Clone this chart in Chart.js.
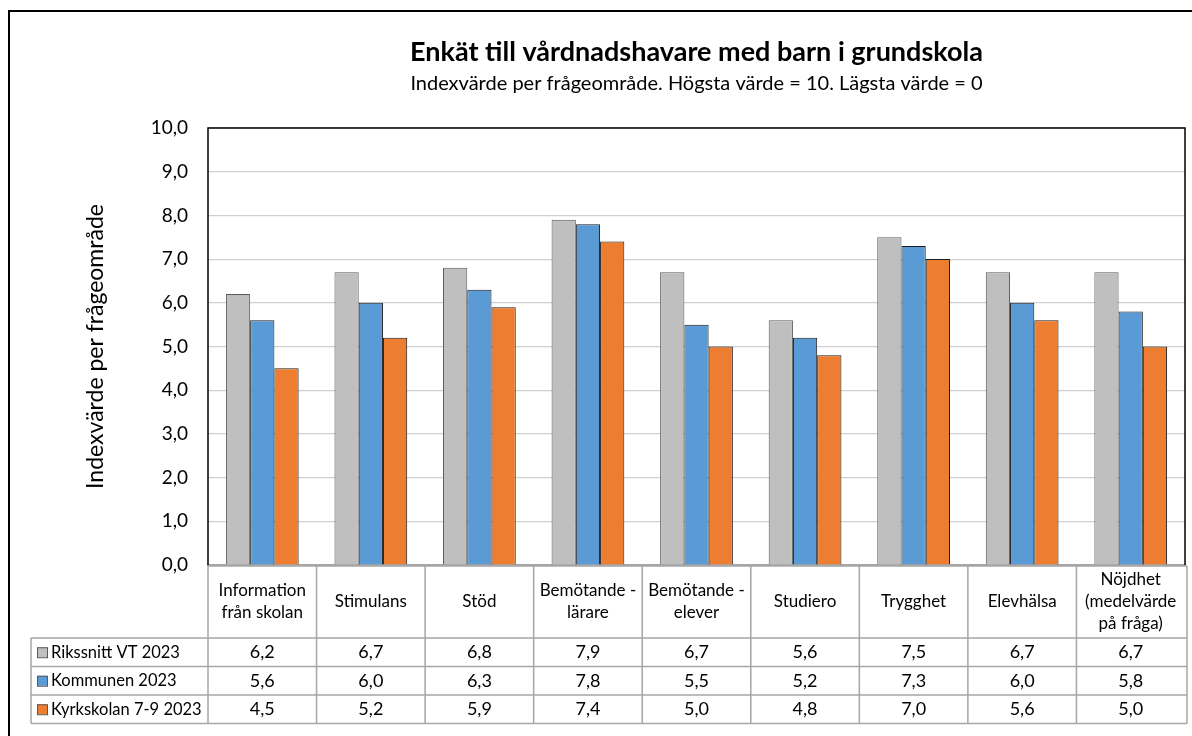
<!DOCTYPE html>
<html>
<head>
<meta charset="utf-8">
<script src="https://cdn.jsdelivr.net/npm/chart.js@4/dist/chart.umd.min.js"></script>
<style>
  body { margin: 0; background: #fff; }
  #wrap { width: 1192px; height: 736px; }
</style>
</head>
<body>
<div id="wrap"><canvas id="bar" width="1192" height="736"></canvas></div>
<script>
'use strict';

// kategorier (rubrikrad i tabellen)
var categories = [
    ['Information', 'från skolan'],
    ['Stimulans'],
    ['Stöd'],
    ['Bemötande -', 'lärare'],
    ['Bemötande -', 'elever'],
    ['Studiero'],
    ['Trygghet'],
    ['Elevhälsa'],
    ['Nöjdhet', '(medelvärde', 'på fråga)']
];
var seriesNames = ['Rikssnitt VT 2023', 'Kommunen 2023', 'Kyrkskolan 7-9 2023'];
var riksValues = [6.2, 6.7, 6.8, 7.9, 6.7, 5.6, 7.5, 6.7, 6.7];
var kommunValues = [5.6, 6.0, 6.3, 7.8, 5.5, 5.2, 7.3, 6.0, 5.8];
var skolaValues = [4.5, 5.2, 5.9, 7.4, 5.0, 4.8, 7.0, 5.6, 5.0];
var yTicks = [0, 1, 2, 3, 4, 5, 6, 7, 8, 9, 10];
var colors = ['#BFBFBF', '#5B9BD5', '#ED7D31'];

var FONT = 'Lato';

function fmt(v) {
    return v.toFixed(1).replace('.', ',');
}

// ram, titel och datatabell
var tablePlugin = {
    id: 'tablePlugin',
    beforeDraw: function(chart) {
        var ctx = chart.ctx;
        ctx.save();
        ctx.fillStyle = '#fff';
        ctx.fillRect(0, 0, chart.width, chart.height);
        ctx.strokeStyle = '#000';
        ctx.lineWidth = 2;
        ctx.strokeRect(9, 11, 1300, 1000);
        ctx.restore();
    },
    afterDraw: function(chart) {
        var ctx = chart.ctx;
        var a = chart.chartArea;
        var x = chart.scales.x;
        var n = categories.length;
        var cw = (a.right - a.left) / n;
        var all = [riksValues, kommunValues, skolaValues];

        ctx.save();
        // titel
        var cx = (a.left + a.right) / 2;
        ctx.fillStyle = '#000';
        ctx.textAlign = 'center';
        ctx.textBaseline = 'middle';
        ctx.font = 'bold 27px ' + FONT;
        ctx.fillText('Enkät till vårdnadshavare med barn i grundskola', cx, 52);
        ctx.font = '20px ' + FONT;
        ctx.fillText('Indexvärde per frågeområde. Högsta värde = 10. Lägsta värde = 0', cx, 84);

        // ram runt diagramytan
        ctx.strokeStyle = '#000';
        ctx.lineWidth = 1.5;
        ctx.beginPath();
        ctx.moveTo(a.left, a.bottom);
        ctx.lineTo(a.left, a.top);
        ctx.lineTo(a.right, a.top);
        ctx.lineTo(a.right, a.bottom);
        ctx.stroke();

        // tabell
        var top = a.bottom + 1;
        var headH = 72;
        var rowH = 28.5;
        var bottom = top + headH + rowH * 3;
        var legLeft = 31;
        var right = a.right + 2;

        ctx.strokeStyle = '#A6A6A6';
        ctx.lineWidth = 1.5;
        ctx.beginPath();
        ctx.moveTo(a.left, top);
        ctx.lineTo(right, top);
        for (var r = 0; r <= 3; r++) {
            var yy = top + headH + rowH * r;
            ctx.moveTo(legLeft, yy);
            ctx.lineTo(right, yy);
        }
        for (var i = 0; i <= n; i++) {
            var xx = i < n ? x.getPixelForValue(i) - cw / 2 : right;
            ctx.moveTo(xx, top);
            ctx.lineTo(xx, bottom);
        }
        ctx.moveTo(legLeft, top + headH);
        ctx.lineTo(legLeft, bottom);
        ctx.stroke();

        ctx.fillStyle = '#000';
        ctx.textAlign = 'center';
        ctx.textBaseline = 'middle';
        ctx.font = '17px ' + FONT;
        var lh = 22;
        categories.forEach(function(lines, i) {
            var px = x.getPixelForValue(i);
            var y0 = top + headH / 2 - (lines.length - 1) * lh / 2;
            lines.forEach(function(t, k) {
                ctx.fillText(t, px, y0 + k * lh);
            });
        });

        all.forEach(function(vals, s) {
            var yy = top + headH + rowH * s + rowH / 2;
            ctx.font = '18px ' + FONT;
            vals.forEach(function(v, i) {
                ctx.fillText(fmt(v), x.getPixelForValue(i), yy);
            });
            // förklaring
            ctx.fillStyle = colors[s];
            ctx.fillRect(37, yy - 5, 10, 10);
            ctx.strokeStyle = '#595959';
            ctx.lineWidth = 1;
            ctx.strokeRect(37.5, yy - 4.5, 10, 10);
            ctx.fillStyle = '#000';
            ctx.textAlign = 'left';
            ctx.font = '16.5px ' + FONT;
            ctx.fillText(seriesNames[s], 51, yy);
            ctx.textAlign = 'center';
        });
        ctx.restore();
    }
};

var ctx = document.getElementById('bar').getContext('2d');
var myChart = new Chart(ctx, {
    type: 'bar',
    data: {
        labels: categories,
        datasets: [riksValues, kommunValues, skolaValues].map(function(vals, s) {
            return {
                label: seriesNames[s],
                data: vals,
                backgroundColor: colors[s],
                borderColor: s === 0 ? '#595959' : '#1a1a1a',
                borderWidth: 1,
                borderSkipped: 'bottom',
                categoryPercentage: 0.67,
                barPercentage: 1.0
            };
        })
    },
    options: {
        responsive: false,
        animation: false,
        layout: {
            padding: { left: 82, top: 128, right: 7, bottom: 171 }
        },
        plugins: {
            legend: { display: false },
            title: { display: false },
            tooltip: { enabled: false }
        },
        scales: {
            x: {
                afterFit: function(scale) { scale.height = 0; },
                ticks: { display: false },
                grid: { display: false },
                border: { display: true, color: '#A6A6A6', width: 2 }
            },
            y: {
                min: 0,
                max: 10,
                afterFit: function(scale) { scale.width = 126; },
                afterBuildTicks: function(scale) {
                    scale.ticks = yTicks.map(function(v) { return { value: v }; });
                },
                ticks: {
                    padding: 20,
                    color: '#000',
                    font: { family: FONT, size: 19 },
                    callback: function(value) { return fmt(value); }
                },
                grid: { color: '#D0D0D0', lineWidth: 1.2, drawTicks: false },
                border: { display: false },
                title: {
                    display: true,
                    text: 'Indexvärde per frågeområde',
                    color: '#000',
                    font: { family: FONT, size: 23 },
                    padding: { top: 0, bottom: 0 }
                }
            }
        }
    },
    plugins: [tablePlugin]
});
</script>
</body>
</html>
